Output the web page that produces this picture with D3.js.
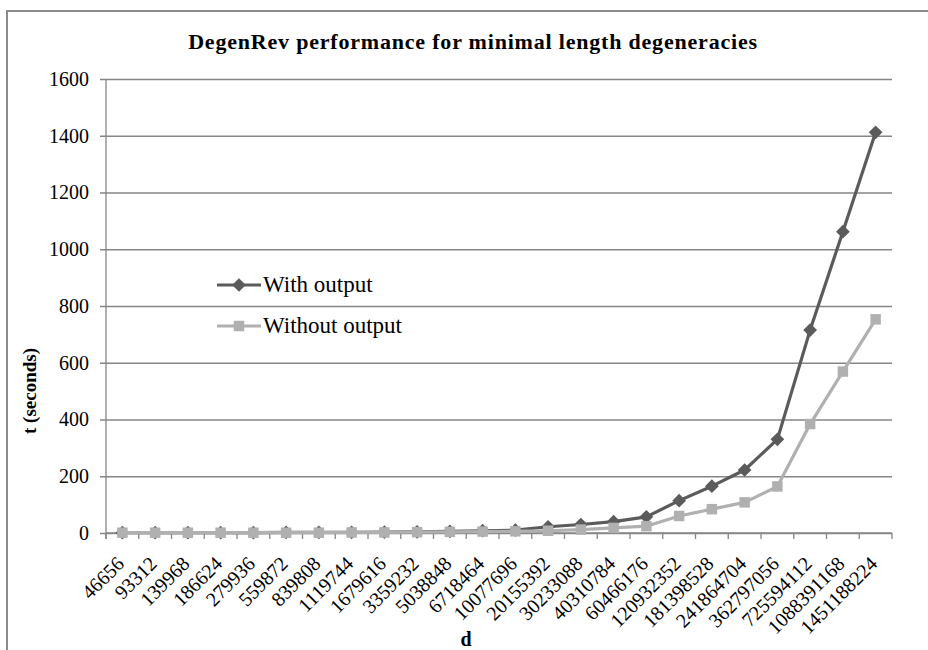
<!DOCTYPE html>
<html lang="en">
<head>
  <meta charset="UTF-8">
  <title>DegenRev performance</title>
  <script src="https://d3js.org/d3.v7.min.js"></script>
  <style>
    body {
      margin: 0;
      overflow: hidden;
      background: white;
    }
  </style>
</head>
<body>
  <script>
    const width = 928;
    const height = 650;
    const serif = "'Times New Roman', 'Liberation Serif', serif";

    // data
    const categories = [
      "46656", "93312", "139968", "186624", "279936", "559872", "839808", "1119744",
      "1679616", "3359232", "5038848", "6718464", "10077696", "20155392", "30233088",
      "40310784", "60466176", "120932352", "181398528", "241864704", "362797056",
      "725594112", "1088391168", "1451188224"
    ];
    const withOutput = [
      1, 1, 1, 1, 1, 2, 2, 2, 3, 4, 6, 8, 10, 22, 30, 40, 57, 114, 165, 222, 330, 715, 1062, 1412
    ];
    const withoutOutput = [
      1, 1, 1, 1, 1, 1, 1, 2, 2, 3, 4, 5, 6, 8, 12, 18, 24, 60, 84, 108, 164, 384, 569, 753
    ];
    const yTicks = [0, 200, 400, 600, 800, 1000, 1200, 1400, 1600];

    const series = [
      { name: "With output", values: withOutput, color: "#5b5b5b", marker: "diamond" },
      { name: "Without output", values: withoutOutput, color: "#b0b0b0", marker: "square" }
    ];

    const plotLeft = 106, plotRight = 892, plotTop = 79, plotBottom = 533;

    const svg = d3.select("body")
      .append("svg")
      .attr("width", width)
      .attr("height", height)
      .style("font-family", serif);

    // chart frame
    svg.append("rect")
      .attr("x", 7)
      .attr("y", 11)
      .attr("width", 960)
      .attr("height", 700)
      .attr("fill", "white")
      .attr("stroke", "#8c8c8c")
      .attr("stroke-width", 2);

    const x = d3.scaleBand()
      .domain(categories)
      .range([plotLeft, plotRight])
      .padding(0);

    const y = d3.scaleLinear()
      .domain([0, 1600])
      .range([plotBottom, plotTop]);

    // gridlines + y labels
    const yAxis = svg.append("g")
      .attr("transform", `translate(${plotLeft},0)`)
      .call(d3.axisLeft(y)
        .tickValues(yTicks)
        .tickFormat(d3.format("d"))
        .tickSize(-(plotRight - plotLeft))
        .tickPadding(17));
    yAxis.attr("font-family", serif).attr("font-size", 20);
    yAxis.select(".domain").remove();
    yAxis.selectAll(".tick line")
      .attr("x1", -6)
      .attr("stroke", "#868686")
      .attr("stroke-width", 1.3);
    yAxis.selectAll(".tick text")
      .attr("fill", "#000");

    // y axis line
    svg.append("line")
      .attr("x1", plotLeft).attr("x2", plotLeft)
      .attr("y1", plotTop).attr("y2", plotBottom + 6)
      .attr("stroke", "#868686")
      .attr("stroke-width", 1.3);

    // x axis line and ticks at category boundaries
    svg.append("line")
      .attr("x1", plotLeft).attr("x2", plotRight)
      .attr("y1", plotBottom).attr("y2", plotBottom)
      .attr("stroke", "#868686")
      .attr("stroke-width", 1.3);

    const boundaries = categories.map(c => x(c)).concat([x.range()[1]]);
    svg.append("g")
      .selectAll("line")
      .data(boundaries)
      .enter()
      .append("line")
      .attr("x1", d => d).attr("x2", d => d)
      .attr("y1", plotBottom).attr("y2", plotBottom + 6)
      .attr("stroke", "#868686")
      .attr("stroke-width", 1.3);

    // x labels rotated
    svg.append("g")
      .selectAll("text")
      .data(categories)
      .enter()
      .append("text")
      .attr("transform", d => `translate(${x(d) + x.bandwidth() / 2 + 3},${plotBottom + 32}) rotate(-45)`)
      .attr("text-anchor", "end")
      .style("font-family", serif)
      .style("font-size", "20px")
      .text(d => d);

    // lines
    const line = d3.line()
      .x((d, i) => x(categories[i]) + x.bandwidth() / 2)
      .y(d => y(d));

    const diamond = d3.symbol().type(d3.symbolDiamond2).size(120);
    const square = d3.symbol().type(d3.symbolSquare).size(110);

    // second series is painted over the first, as in the original
    series.forEach(s => {
      svg.append("path")
        .datum(s.values)
        .attr("fill", "none")
        .attr("stroke", s.color)
        .attr("stroke-width", 3.2)
        .attr("stroke-linejoin", "round")
        .attr("d", line);

      svg.append("g")
        .selectAll("path")
        .data(s.values)
        .enter()
        .append("path")
        .attr("transform", (d, i) => `translate(${x(categories[i]) + x.bandwidth() / 2},${y(d)})`)
        .attr("d", s.marker === "diamond" ? diamond : square)
        .attr("fill", s.color);
    });

    // legend
    const legend = svg.append("g");
    series.forEach((s, i) => {
      const ly = 285 + i * 41;
      legend.append("line")
        .attr("x1", 217).attr("x2", 261)
        .attr("y1", ly).attr("y2", ly)
        .attr("stroke", s.color)
        .attr("stroke-width", 3.2);
      legend.append("path")
        .attr("transform", `translate(239,${ly})`)
        .attr("d", s.marker === "diamond" ? diamond : square)
        .attr("fill", s.color);
      legend.append("text")
        .attr("x", 263)
        .attr("y", ly)
        .attr("dy", "0.3em")
        .style("font-family", serif)
        .style("font-size", "23px")
        .text(s.name);
    });

    // titles
    svg.append("text")
      .attr("x", 473)
      .attr("y", 49)
      .attr("text-anchor", "middle")
      .style("font-family", serif)
      .style("font-size", "22px")
      .style("font-weight", "bold")
      .style("letter-spacing", "0.8px")
      .text("DegenRev performance for minimal length degeneracies");

    svg.append("text")
      .attr("transform", "translate(36,391) rotate(-90)")
      .attr("text-anchor", "middle")
      .style("font-family", serif)
      .style("font-size", "19px")
      .style("font-weight", "bold")
      .text("t (seconds)");

    svg.append("text")
      .attr("x", 466)
      .attr("y", 646)
      .attr("text-anchor", "middle")
      .style("font-family", serif)
      .style("font-size", "20px")
      .style("font-weight", "bold")
      .text("d");
  </script>
</body>
</html>
